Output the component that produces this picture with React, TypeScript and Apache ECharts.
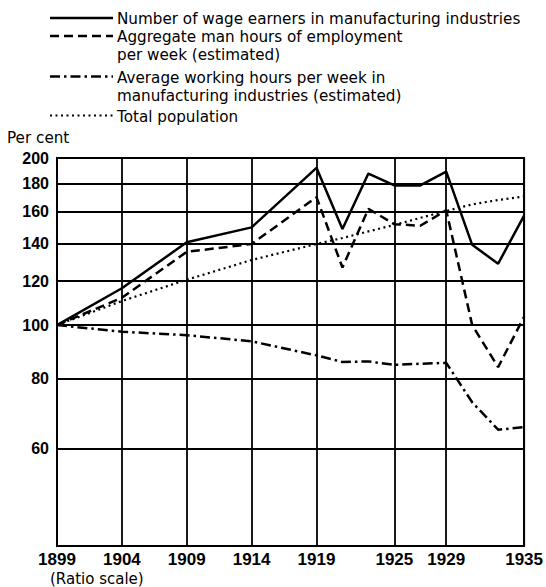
import React, { useEffect, useRef } from "react";
import * as echarts from "echarts";

// ---- data ----
const years = [1899, 1904, 1909, 1914, 1919, 1921, 1923, 1925, 1927, 1929, 1931, 1933, 1935];
const wageEarners = [100, 116.5, 141, 150, 192, 149, 187.5, 178.5, 178.5, 189, 139.5, 129, 157.5];
const manHours = [100, 112, 135.5, 140, 170, 127, 162, 152, 151, 161, 100, 84, 103.5];
const avgHours = [100, 97.3, 95.9, 93.5, 88.2, 85.8, 86, 84.8, 85.2, 85.5, 72.6, 64.8, 65.5];
const population = [100, 110.5, 120.7, 131, 140, 143.5, 147.5, 151.5, 156, 160.5, 165, 168, 170.5];

const xTicks = [1899, 1904, 1909, 1914, 1919, 1925, 1929, 1935];
const yTicks = [60, 80, 100, 120, 140, 160, 180, 200];

const legendEntries = [
  { lines: ["Number of wage earners in manufacturing industries"], style: "solid" },
  { lines: ["Aggregate man hours of employment", "per week (estimated)"], style: "dashed" },
  { lines: ["Average working hours per week in", "manufacturing industries (estimated)"], style: "dashdot" },
  { lines: ["Total population"], style: "dotted" },
];

const yAxisTitle = "Per cent";
const scaleNote = "(Ratio scale)";

const dashes: Record<string, number[] | undefined> = {
  solid: undefined,
  dashed: [9, 5],
  dashdot: [10, 4, 2.5, 4],
  dotted: [2, 3.5],
};

const seriesList = [
  { name: legendEntries[0].lines.join(" "), values: wageEarners, style: "solid" },
  { name: legendEntries[1].lines.join(" "), values: manHours, style: "dashed" },
  { name: legendEntries[2].lines.join(" "), values: avgHours, style: "dashdot" },
  { name: legendEntries[3].lines.join(" "), values: population, style: "dotted" },
];

const TEXT_FONT = '"DejaVu Sans", "Liberation Sans", sans-serif';
const NUM_FONT = '"Liberation Sans Narrow", "Liberation Sans", sans-serif';
const YNUM_FONT = '"Liberation Sans", Arial, sans-serif';

export default function App() {
  const ref = useRef<HTMLDivElement>(null);

  useEffect(() => {
    if (!ref.current) return;
    const chart = echarts.init(ref.current, undefined, { renderer: "svg" });

    // legend drawn as graphic elements
    const legendRowY = [19, 37, 55, 77.5, 95.5, 116.5];
    const graphics: any[] = [];
    let row = 0;
    legendEntries.forEach((entry) => {
      const lineY = legendRowY[row] - 1;
      graphics.push({
        type: "line",
        shape: { x1: 50, y1: lineY, x2: 113, y2: lineY },
        style: { stroke: "#000", lineWidth: entry.style === "dotted" ? 2 : 2.5, lineDash: dashes[entry.style] },
      });
      entry.lines.forEach((t) => {
        graphics.push({
          type: "text",
          x: 117,
          y: legendRowY[row],
          style: {
            text: t,
            fill: "#000",
            fontSize: 15.2,
            fontFamily: TEXT_FONT,
            verticalAlign: "middle",
            textVerticalAlign: "middle",
          },
        });
        row++;
      });
    });
    graphics.push({
      type: "text",
      x: 7,
      y: 138,
      style: { text: yAxisTitle, fill: "#000", fontSize: 15.2, fontFamily: TEXT_FONT, verticalAlign: "middle", textVerticalAlign: "middle" },
    });
    graphics.push({
      type: "text",
      x: 50,
      y: 578.5,
      style: { text: scaleNote, fill: "#000", fontSize: 15, fontFamily: TEXT_FONT, verticalAlign: "middle", textVerticalAlign: "middle" },
    });

    chart.setOption({
      animation: false,
      backgroundColor: "#fff",
      grid: {
        left: 57,
        right: 14,
        top: 158,
        bottom: 41,
        show: true,
        borderColor: "#000",
        borderWidth: 2,
        containLabel: false,
      },
      xAxis: {
        type: "value",
        min: 1899,
        max: 1935,
        axisLine: { show: true, lineStyle: { color: "#000", width: 2 } },
        axisTick: { show: false, customValues: xTicks },
        axisLabel: {
          customValues: xTicks,
          formatter: (v: number) => String(v),
          color: "#000",
          fontSize: 17,
          fontWeight: "bold",
          fontFamily: NUM_FONT,
          margin: 5,
        },
        splitLine: { show: true, lineStyle: { color: "#000", width: 1.8 } },
      },
      yAxis: {
        type: "log",
        logBase: 10,
        min: 40,
        max: 200,
        axisLine: { show: true, lineStyle: { color: "#000", width: 2 } },
        axisTick: { show: false, customValues: yTicks },
        axisLabel: {
          customValues: yTicks,
          formatter: (v: number) => String(Math.round(v)),
          color: "#000",
          fontSize: 16,
          fontWeight: "bold",
          fontFamily: YNUM_FONT,
          margin: 8,
        },
        splitLine: { show: true, lineStyle: { color: "#000", width: 1.8 } },
      },
      series: seriesList.map((s) => ({
        type: "line",
        name: s.name,
        data: years.map((y, i) => [y, s.values[i]]),
        symbol: "none",
        lineStyle: {
          color: "#000",
          width: s.style === "dotted" ? 2.2 : 2.5,
          type: dashes[s.style] ?? "solid",
        },
      })),
      graphic: graphics,
    });

    return () => chart.dispose();
  }, []);

  return (
    <div
      ref={ref}
      style={{ position: "fixed", left: 0, top: 0, width: 546, height: 587, background: "#fff" }}
    />
  );
}
